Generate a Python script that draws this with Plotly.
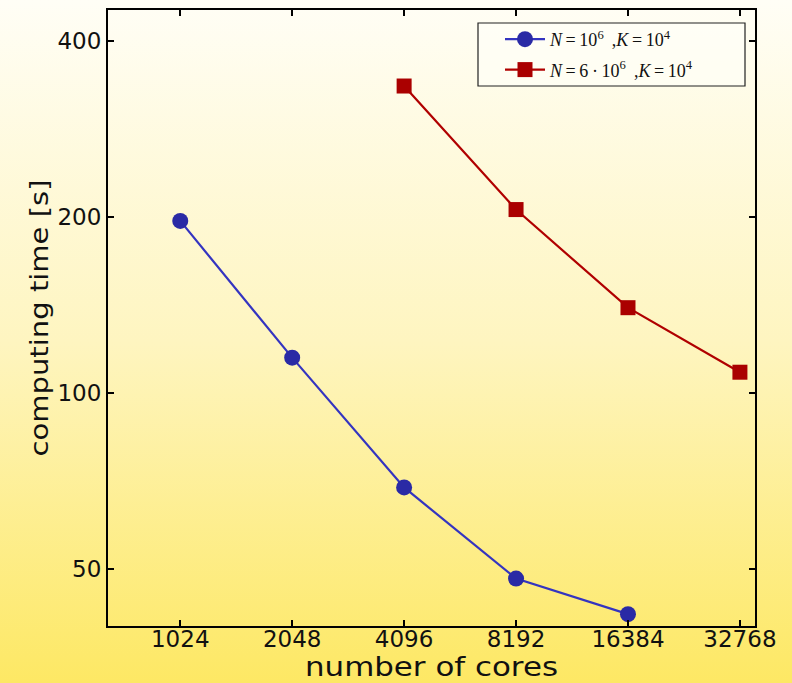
import base64
import plotly.graph_objects as go

# ---- data ----
cores_small = [1024, 2048, 4096, 8192, 16384]
time_small = [197, 115, 69, 48.2, 41.9]
cores_large = [4096, 8192, 16384, 32768]
time_large = [335, 206, 140, 108.6]
x_ticks = [1024, 2048, 4096, 8192, 16384, 32768]
y_ticks = [50, 100, 200, 400]
label_small = "<i>N</i>\u2009=\u200910<sup>6</sup> \u2009,<i>K</i>\u2009=\u200910<sup>4</sup>"
label_large = "<i>N</i>\u2009=\u20096\u2009\u00b7\u200910<sup>6</sup> \u2009,<i>K</i>\u2009=\u200910<sup>4</sup>"

W, H = 792, 683
ML, MR, MT, MB = 108, 37, 10, 57
PW, PH = W - ML - MR, H - MT - MB


def px_x(p):
    return (p - ML) / PW


def px_y(p):
    return 1 - (p - MT) / PH


svg = (
    f'<svg xmlns="http://www.w3.org/2000/svg" width="{W}" height="{H}" preserveAspectRatio="none">'
    '<defs><linearGradient id="g" x1="0" y1="0" x2="0" y2="1">'
    '<stop offset="0" stop-color="#fffef6"/>'
    '<stop offset="0.5" stop-color="#fef5c0"/>'
    '<stop offset="1" stop-color="#fde864"/>'
    '</linearGradient></defs>'
    f'<rect width="{W}" height="{H}" fill="url(#g)"/></svg>'
)
src = "data:image/svg+xml;base64," + base64.b64encode(svg.encode()).decode()

fig = go.Figure()
fig.add_trace(go.Scatter(
    x=cores_small, y=time_small, mode="lines+markers", name=label_small,
    legendgroup="a",
    line=dict(color="#3434c0", width=2.2),
    marker=dict(symbol="circle", size=16, color="#2a2aa5"),
))
fig.add_trace(go.Scatter(
    x=cores_large, y=time_large, mode="lines+markers", name=label_large,
    legendgroup="b",
    line=dict(color="#b00000", width=2.2),
    marker=dict(symbol="square", size=15, color="#aa0000"),
))

axis_common = dict(
    type="log", showgrid=False, zeroline=False, automargin=False,
    showline=True, linecolor="black", linewidth=2, mirror="ticks",
    ticks="inside", ticklen=6, tickwidth=1.5, tickcolor="black",
    tickfont=dict(family="DejaVu Sans", size=23, color="#111"),
)
fig.update_xaxes(
    **axis_common,
    range=[2.816, 4.556],
    tickvals=x_ticks, ticktext=[str(v) for v in x_ticks],
    ticklabelstandoff=-9,
    title=dict(text="number of cores", font=dict(family="DejaVu Sans", size=26, color="#111"), standoff=0),
)
fig.update_yaxes(
    **axis_common,
    range=[1.602, 2.655],
    tickvals=y_ticks, ticktext=[str(v) for v in y_ticks],
    title=dict(text="computing time [s]", font=dict(family="DejaVu Sans", size=25, color="#111"), standoff=2),
)

fig.update_layout(
    width=W, height=H,
    margin=dict(l=ML, r=MR, t=MT, b=MB, pad=0, autoexpand=False),
    paper_bgcolor="#fef5c0",
    plot_bgcolor="rgba(0,0,0,0)",
    images=[dict(
        source=src, xref="paper", yref="paper",
        x=-ML / PW, y=1 + MT / PH, sizex=W / PW, sizey=H / PH,
        xanchor="left", yanchor="top", sizing="stretch", layer="below",
    )],
    shapes=[dict(
        type="rect", xref="paper", yref="paper",
        x0=px_x(478), x1=px_x(745), y0=px_y(86), y1=px_y(23),
        line=dict(color="#222", width=1.2), fillcolor="rgba(255,255,250,0.55)",
        layer="above",
    )],
    legend=dict(
        x=px_x(500), y=px_y(21), xanchor="left", yanchor="top",
        bgcolor="rgba(0,0,0,0)", borderwidth=0,
        font=dict(family="Liberation Serif", size=18, color="#111"),
        itemwidth=40, tracegroupgap=4,
    ),
    showlegend=True,
)

post = """
document.body.style.margin='0';
var gd = document.getElementById('{plot_id}');
var xt = gd.querySelector('.xtitle');
if (xt) { xt.setAttribute('textLength', '253'); xt.setAttribute('lengthAdjust', 'spacingAndGlyphs'); }
var yt = gd.querySelector('.ytitle');
if (yt) { yt.setAttribute('textLength', '277'); yt.setAttribute('lengthAdjust', 'spacingAndGlyphs'); }
"""

fig.write_html("out.html", config={"displayModeBar": False}, post_script=post)
